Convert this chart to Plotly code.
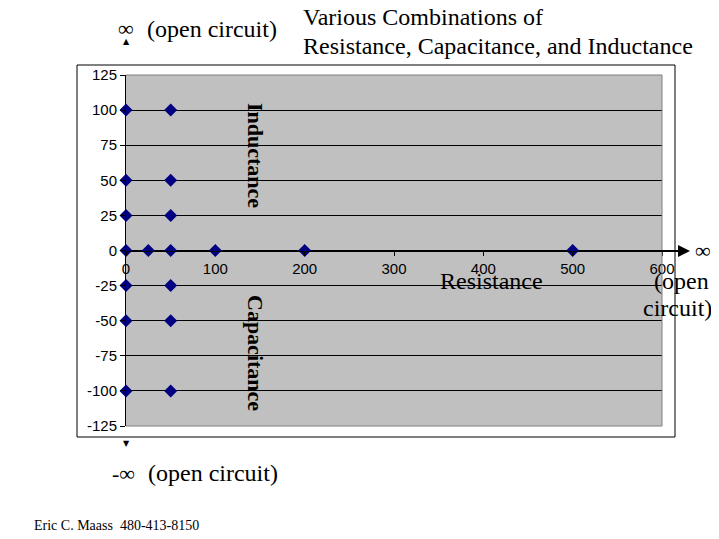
import plotly.graph_objects as go

# Data
resistance = [0, 50, 0, 50, 0, 50, 0, 25, 50, 100, 200, 500, 0, 50, 0, 50, 0, 50]
reactance = [100, 100, 50, 50, 25, 25, 0, 0, 0, 0, 0, 0, -25, -25, -50, -50, -100, -100]
y_tickvals = [125, 100, 75, 50, 25, 0, -25, -50, -75, -100, -125]
y_ticktext = ["125", "100", "75", "50", "25", "0", "-25", "-50", "-75", "-100", "-125"]
x_tickvals = [0, 100, 200, 300, 400, 500, 600]
x_ticktext = ["0", "100", "200", "300", "400", "500", "600"]

WIN_W, WIN_H = 719, 539
OX, OY = 8, 8  # page body margin
W, H = WIN_W - OX, WIN_H - OY
L, R, T, B = 126, 662, 75, 426


def px(x):
    return (x - L) / (R - L)


def py(y):
    return (B - y) / (B - T)


fig = go.Figure()
fig.add_trace(go.Scatter(
    x=resistance, y=reactance, mode="markers",
    marker=dict(symbol="diamond", size=10, color="#000080",
                line=dict(width=0)),
    showlegend=False, cliponaxis=False,
))

serif = "Liberation Serif"
sans = "Liberation Sans"

fig.update_layout(
    width=W, height=H,
    margin=dict(l=L - OX, r=WIN_W - R, t=T - OY, b=WIN_H - B, pad=0),
    paper_bgcolor="white",
    plot_bgcolor="#C0C0C0",
    xaxis=dict(range=[0, 600], tickvals=x_tickvals, ticktext=x_ticktext,
               showgrid=False, zeroline=False, showline=True,
               linecolor="black", linewidth=1,
               ticks="outside", ticklen=4, tickcolor="black",
               anchor="free", position=0.5,
               tickfont=dict(family=sans, size=15, color="black")),
    yaxis=dict(range=[-125, 125], tickvals=y_tickvals, ticktext=y_ticktext,
               showgrid=True, gridcolor="black", gridwidth=1,
               zeroline=True, zerolinecolor="black", zerolinewidth=1,
               showline=True, linecolor="black", linewidth=1,
               ticks="outside", ticklen=5, tickcolor="black",
               tickfont=dict(family=sans, size=15, color="black")),
)

shapes = [
    # outer chart border
    dict(type="rect", xref="paper", yref="paper",
         x0=px(77), x1=px(675), y0=py(437), y1=py(65),
         line=dict(color="black", width=1), layer="above"),
    # plot area border (gray, top/right/bottom)
    dict(type="line", xref="paper", yref="paper",
         x0=0, x1=1, y0=1, y1=1, line=dict(color="#808080", width=1)),
    dict(type="line", xref="paper", yref="paper",
         x0=1, x1=1, y0=0, y1=1, line=dict(color="#808080", width=1)),
    dict(type="line", xref="paper", yref="paper",
         x0=0, x1=1, y0=0, y1=0, line=dict(color="#808080", width=1)),
]
fig.update_layout(shapes=shapes)


def ann(text, x, y, size=24, family=serif, xanchor="center", textangle=0,
        bold=False):
    if bold:
        text = "<b>" + text + "</b>"
    fig.add_annotation(text=text, x=px(x), y=py(y), xref="paper", yref="paper",
                       showarrow=False, xanchor=xanchor, yanchor="middle",
                       textangle=textangle,
                       font=dict(family=family, size=size, color="black"))


ann("Various Combinations of", 301, 17, xanchor="left")
ann("Resistance, Capacitance, and Inductance", 301, 46, xanchor="left")
ann("∞", 126, 29, size=22)
ann("▲", 126, 41, size=8, family="DejaVu Sans")
ann("(open circuit)", 145, 29, xanchor="left")
ann("Inductance", 256, 155, size=22, textangle=90, bold=True)
ann("Capacitance", 256, 353, size=22, textangle=90, bold=True)
ann("Resistance", 491, 281)
ann("∞", 703, 251, size=22)
ann("(open", 681, 281)
ann("circuit)", 677, 308)
ann("▼", 126, 443, size=8, family="DejaVu Sans")
ann("-∞", 110, 473, size=22, xanchor="left")
ann("(open circuit)", 146, 473, xanchor="left")
ann("Eric C. Maass  480-413-8150", 32, 525, size=14, xanchor="left")

# arrow to infinity
fig.add_annotation(x=px(690), y=py(251), xref="paper", yref="paper",
                   ax=-78, ay=0, text="", showarrow=True,
                   arrowhead=2, arrowsize=1.2, arrowwidth=2,
                   arrowcolor="black")

fig.write_html("out.html")
